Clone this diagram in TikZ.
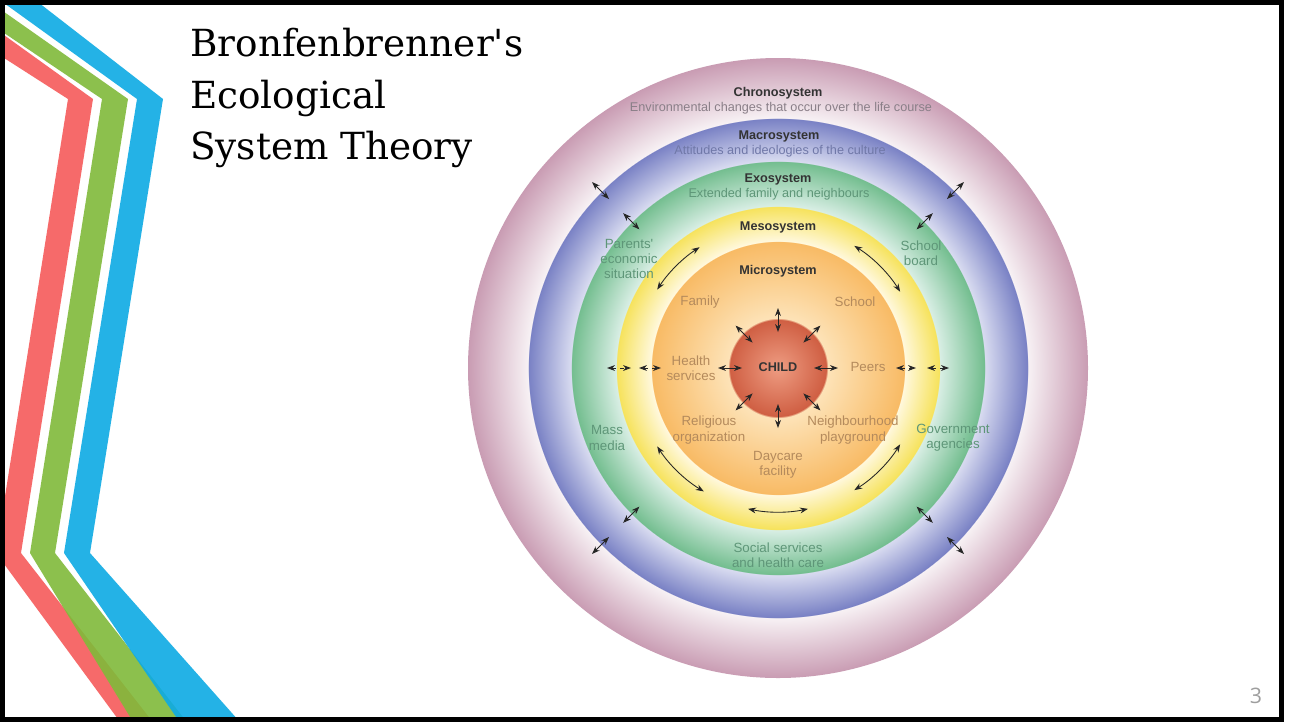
\documentclass[tikz,border=0pt]{standalone}
\usepackage{fontspec}
\setmainfont{DejaVu Serif}
\setsansfont{Liberation Sans}
\newfontfamily\pagenumfont{Open Sans}
\usetikzlibrary{arrows.meta}

\definecolor{stripred}{HTML}{F65A5A}
\definecolor{stripgreen}{HTML}{80BA3A}
\definecolor{stripblue}{HTML}{0DAAE4}
\definecolor{childin}{HTML}{EE9C82}
\definecolor{childout}{HTML}{CF5E42}
\definecolor{microin}{HTML}{FDE3B8}
\definecolor{microout}{HTML}{F8BA64}
\definecolor{mesoin}{HTML}{FFF8DC}
\definecolor{mesoout}{HTML}{F6E25A}
\definecolor{exoin}{HTML}{D8EEE4}
\definecolor{exoout}{HTML}{72BD8E}
\definecolor{macroin}{HTML}{D8DBF0}
\definecolor{macroout}{HTML}{7880C4}
\definecolor{chronoin}{HTML}{F7F1F4}
\definecolor{chronoout}{HTML}{C99CB3}
\definecolor{systext}{HTML}{333333}
\definecolor{chronotext}{HTML}{8A7F88}
\definecolor{macrotext}{HTML}{7078A8}
\definecolor{exotext}{HTML}{5E9678}
\definecolor{microtext}{HTML}{B48A5C}

\pgfdeclareradialshading{systems}{\pgfpointorigin}{%
  color(0bp)=(childin); color(3.95bp)=(childout);
  color(3.96bp)=(microin); color(10.24bp)=(microout);
  color(10.25bp)=(mesoin); color(13.06bp)=(mesoout);
  color(13.07bp)=(exoin); color(16.69bp)=(exoout);
  color(16.70bp)=(macroin); color(20.16bp)=(macroout);
  color(20.17bp)=(chronoin); color(25bp)=(chronoout);
  color(50bp)=(chronoout)}

\begin{document}
\begin{tikzpicture}[x=0.75pt, y=-0.75pt,
  sysname/.style={font=\sffamily\bfseries\fontsize{9.5}{10}\selectfont, text=systext, inner sep=0pt},
  systxt/.style={font=\sffamily\fontsize{9.5}{10}\selectfont, inner sep=0pt},
  lbl/.style={font=\sffamily\fontsize{10}{11.5}\selectfont, align=center, inner sep=0pt},
  link/.style={<->, line width=0.65pt, draw=black!85},
  >={Stealth[length=6pt,width=4.4pt]}
]
\useasboundingbox (0,0) rectangle (1292,722);
\fill[white] (0,0) rectangle (1292,722);

\begin{scope}
\clip (0,0) rectangle (1282,719);
\fill[stripred, opacity=.9] (-10,25) -- (93,99) -- (21,553) -- (159,730) -- (126,730)
  -- (-4,553) -- (68,99) -- (-10,49) -- cycle;
\fill[stripgreen, opacity=.9] (-10,2) -- (128,99) -- (55,553) -- (193,730) -- (138,730)
  -- (30,553) -- (102,99) -- (-10,23.5) -- cycle;
\fill[stripblue, opacity=.9] (-10,-35) -- (163,99) -- (90,553) -- (247,730) -- (185,730)
  -- (64,553) -- (137,99) -- (-10,-7) -- cycle;
\end{scope}

\node[anchor=north west, align=left, font=\fontsize{28}{38.6}\selectfont, inner sep=0pt]
  (title) at (190,28) {Bronfenbrenner\textquotesingle s\\Ecological\\System Theory};

\begin{scope}[shift={(778,368)}, yscale=-1]
\shade[shading=systems] (0,0) circle[radius=310];
\foreach \a in {0,45,...,315}
  \draw[link] (\a:36) -- (\a:60);
\foreach \a in {45,135,225,315} {
  \draw[link] (\a:196) -- (\a:219);
  \draw[link] (\a:239) -- (\a:263);
}
\draw[link, dashed] (-171,0) -- (-147,0);
\draw[link, dashed] (-139,0) -- (-117,0);
\draw[link, dashed] (118,0) -- (138,0);
\draw[link, dashed] (149,0) -- (171,0);
\draw[link] (147:144) arc[start angle=147, end angle=123, radius=144];
\draw[link] (58:144) arc[start angle=58, end angle=32, radius=144];
\draw[link] (213:144) arc[start angle=213, end angle=239, radius=144];
\draw[link] (258:144) arc[start angle=258, end angle=282, radius=144];
\draw[link] (302:144) arc[start angle=302, end angle=328, radius=144];
\end{scope}

\node[sysname] (chrono) at (778,93) {Chronosystem};
\node[systxt, text=chronotext] (chronotxt) at (781,108) {Environmental changes that occur over the life course};
\node[sysname] (macro) at (779,136) {Macrosystem};
\node[systxt, text=macrotext] (macrotxt) at (780,151) {Attitudes and ideologies of the culture};
\node[sysname] (exo) at (778,179) {Exosystem};
\node[systxt, text=exotext] (exotxt) at (779,194) {Extended family and neighbours};
\node[sysname] (meso) at (778,227) {Mesosystem};
\node[sysname] (micro) at (778,271) {Microsystem};
\node[sysname, text=black!80] (child) at (778,367) {CHILD};

\node[lbl, text=microtext] (family) at (700,302) {Family};
\node[lbl, text=microtext] (school) at (855,302) {School};
\node[lbl, text=microtext] (health) at (691,368) {Health\\services};
\node[lbl, text=microtext] (peers) at (868,367) {Peers};
\node[lbl, text=microtext] (religious) at (709,430) {Religious\\organization};
\node[lbl, text=microtext] (playground) at (853,430) {Neighbourhood\\playground};
\node[lbl, text=microtext] (daycare) at (778,465) {Daycare\\facility};

\node[lbl, text=exotext] (parents) at (629,259) {Parents\textquotesingle\\economic\\situation};
\node[lbl, text=exotext] (board) at (921,253) {School\\board};
\node[lbl, text=exotext] (media) at (607,438) {Mass\\media};
\node[lbl, text=exotext] (agencies) at (953,438) {Government\\agencies};
\node[lbl, text=exotext] (social) at (778,555) {Social services\\and health care};

\node[anchor=base, font=\pagenumfont\fontsize{16}{16}\selectfont, text=black!38, inner sep=0pt]
  (pagenum) at (1256,703) {3};

\draw[line width=3.75pt] (2.5,2.5) rectangle (1281.5,719.5);
\end{tikzpicture}
\end{document}
